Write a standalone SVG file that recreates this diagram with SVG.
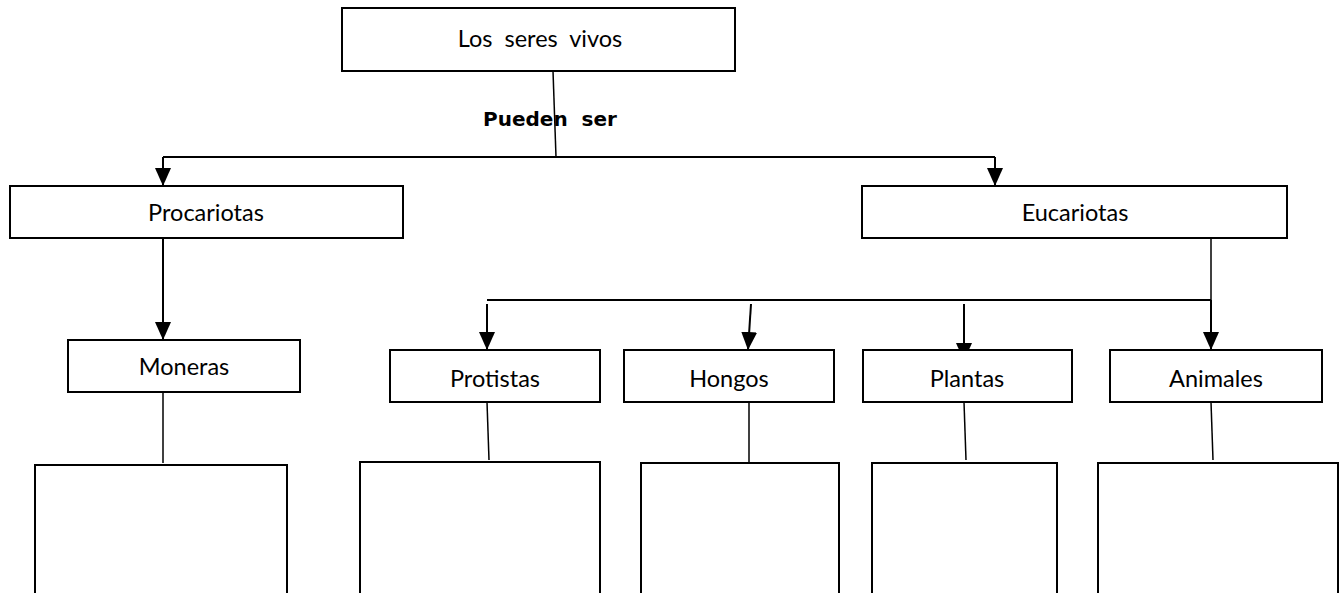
<svg xmlns="http://www.w3.org/2000/svg" width="1343" height="593" viewBox="0 0 1343 593">
<style>
.box{fill:#fff;stroke:#000;stroke-width:2}
.t{font-family:Lato,"Liberation Sans",sans-serif;font-size:23.5px;fill:#000;text-anchor:middle;white-space:pre}
.b{font-family:"DejaVu Sans",sans-serif;font-weight:bold;font-size:20px;fill:#000;text-anchor:middle;white-space:pre}
.c{fill:none;stroke:#000;stroke-width:2}
.thin{fill:none;stroke:#000;stroke-width:1.5}
</style>
<defs>
<marker id="a" markerWidth="18" markerHeight="16" refX="18" refY="8" orient="auto" markerUnits="userSpaceOnUse" viewBox="0 0 18 16">
<path d="M0,0 L18,8 L0,16 Z" fill="#000"/>
</marker>
</defs>
<g id="connectors">
<path class="thin" d="M553,71 L556,157"/>
<path class="c" d="M163,157 L995,157"/>
<path class="c" d="M163,157 L163,186" marker-end="url(#a)"/>
<path class="c" d="M995,157 L995,186" marker-end="url(#a)"/>
<path class="c" d="M163,238 L163,340" marker-end="url(#a)"/>
<path class="thin" d="M163,392 L163,463"/>
<path class="thin" d="M1211,238 L1211,300"/>
<path class="c" d="M487,300 L1211,300"/>
<path class="c" d="M487,304 L487,350" marker-end="url(#a)"/>
<path class="c" d="M751,304 L748,350" marker-end="url(#a)"/>
<path class="c" d="M964,304 L964,361" marker-end="url(#a)"/>
<path class="c" d="M1211,300 L1211,350" marker-end="url(#a)"/>
<path class="thin" d="M487,402 L489,460"/>
<path class="thin" d="M749,402 L749,463"/>
<path class="thin" d="M964,402 L966,460"/>
<path class="thin" d="M1211,402 L1213,460"/>
</g>
<g id="n-seres"><rect class="box" x="342" y="8" width="393" height="63"/><text class="t" x="540" y="47">Los  seres  vivos</text></g>
<g id="lbl-pueden"><text class="b" x="550" y="126">Pueden  ser</text></g>
<g id="n-procariotas"><rect class="box" x="10" y="186" width="393" height="52"/><text class="t" x="206" y="221">Procariotas</text></g>
<g id="n-eucariotas"><rect class="box" x="862" y="186" width="425" height="52"/><text class="t" x="1075" y="221">Eucariotas</text></g>
<g id="n-moneras"><rect class="box" x="68" y="340" width="232" height="52"/><text class="t" x="184" y="375">Moneras</text></g>
<g id="n-protistas"><rect class="box" x="390" y="350" width="210" height="52"/><text class="t" x="495" y="387">Protistas</text></g>
<g id="n-hongos"><rect class="box" x="624" y="350" width="210" height="52"/><text class="t" x="729" y="387">Hongos</text></g>
<g id="n-plantas"><rect class="box" x="863" y="350" width="209" height="52"/><text class="t" x="967" y="387">Plantas</text></g>
<g id="n-animales"><rect class="box" x="1110" y="350" width="212" height="52"/><text class="t" x="1216" y="387">Animales</text></g>
<g id="n-empty1"><rect class="box" x="35" y="465" width="252" height="140"/></g>
<g id="n-empty2"><rect class="box" x="360" y="462" width="240" height="143"/></g>
<g id="n-empty3"><rect class="box" x="641" y="463" width="198" height="142"/></g>
<g id="n-empty4"><rect class="box" x="872" y="463" width="185" height="142"/></g>
<g id="n-empty5"><rect class="box" x="1098" y="463" width="240" height="142"/></g>
</svg>
